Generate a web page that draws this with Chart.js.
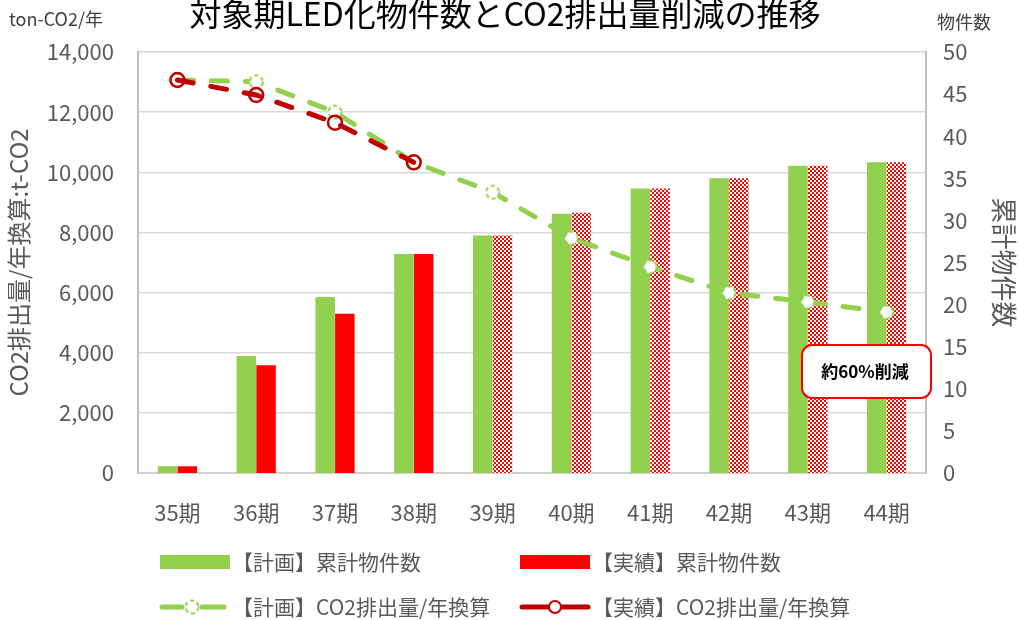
<!DOCTYPE html>
<html>
<head>
<meta charset="utf-8">
<script src="https://cdn.jsdelivr.net/npm/chart.js@4"></script>
<style>
  body { margin: 0; background: #fff; }
  #wrap { width: 1019px; height: 620px; }
</style>
</head>
<body>
<div id="wrap"><canvas id="co2Chart" width="1019" height="620"></canvas></div>
<script>
// 期ごとの件数と排出量
const periods = ['35期', '36期', '37期', '38期', '39期', '40期', '41期', '42期', '43期', '44期'];
const planCount = [0.8, 13.9, 20.9, 26.0, 28.2, 30.8, 33.8, 35.0, 36.5, 36.9];
const actualCount = [0.8, 12.8, 18.9, 26.0, 28.2, 30.9, 33.8, 35.0, 36.5, 36.9];
const planCO2 = [13070, 13010, 12000, 10330, 9340, 7810, 6860, 5990, 5690, 5350];
const actualCO2 = [13070, 12570, 11650, 10330, null, null, null, null, null, null];
// 39期以降の実績は見込み（網掛け）
const firstForecast = 4;

const GREEN = '#92D050';
const RED = '#FF0000';
const DARK_RED = '#C00000';
const GRAY = '#595959';
const JP = '"Noto Sans CJK JP", "Noto Sans", sans-serif';

document.addEventListener('DOMContentLoaded', function() {
    const canvas = document.getElementById('co2Chart');
    const ctx = canvas.getContext('2d');

    // 市松模様
    const tile = document.createElement('canvas');
    tile.width = 4; tile.height = 4;
    const tc = tile.getContext('2d');
    tc.fillStyle = '#fff'; tc.fillRect(0, 0, 4, 4);
    tc.fillStyle = RED;
    tc.fillRect(0, 0, 2, 2); tc.fillRect(2, 2, 2, 2);
    const checker = ctx.createPattern(tile, 'repeat');

    // 計画側のマーカー（白抜き・破線の円）
    const ring = document.createElement('canvas');
    ring.width = 18; ring.height = 18;
    const rc = ring.getContext('2d');
    rc.beginPath();
    rc.arc(9, 9, 6.5, 0, Math.PI * 2);
    rc.fillStyle = '#fff'; rc.fill();
    rc.setLineDash([4, 3]);
    rc.lineWidth = 2; rc.strokeStyle = GREEN; rc.stroke();

    const actualColors = actualCount.map((v, i) => i >= firstForecast ? checker : RED);

    // タイトル・凡例・注記
    const extras = {
        id: 'extras',
        afterDraw(chart) {
            const c = chart.ctx;
            const ds = chart.data.datasets;
            c.save();
            c.textBaseline = 'middle';

            c.fillStyle = '#000';
            c.font = '32px ' + JP;
            c.textAlign = 'center';
            c.fillText('対象期LED化物件数とCO2排出量削減の推移', 505, 14);

            c.fillStyle = '#404040';
            c.font = '18px ' + JP;
            c.textAlign = 'left';
            c.fillText('ton-CO2/年', 9, 19);
            c.fillText('物件数', 937, 22);

            // 注記ボックス
            c.beginPath();
            c.roundRect(802, 345, 129, 53, 10);
            c.fillStyle = '#fff'; c.fill();
            c.lineWidth = 2; c.strokeStyle = RED; c.stroke();
            c.fillStyle = '#000';
            c.font = 'bold 17px ' + JP;
            c.textAlign = 'center';
            c.fillText('約60%削減', 865, 372);

            // 凡例
            c.textAlign = 'left';
            c.font = '21px ' + JP;
            const cols = [160, 520];
            const rows = [562, 607];
            const items = [ds[2], ds[3], ds[1], ds[0]];
            items.forEach((d, i) => {
                const x = cols[i % 2];
                const y = rows[Math.floor(i / 2)];
                if (d.type === 'bar') {
                    c.fillStyle = i === 0 ? GREEN : RED;
                    c.fillRect(x, y - 7, 70, 14);
                } else if (i === 2) {
                    c.strokeStyle = GREEN; c.lineWidth = 5; c.lineCap = 'round';
                    c.beginPath(); c.moveTo(x + 2, y); c.lineTo(x + 22, y); c.stroke();
                    c.beginPath(); c.moveTo(x + 42, y); c.lineTo(x + 64, y); c.stroke();
                    c.drawImage(ring, x + 23, y - 9);
                } else {
                    c.strokeStyle = DARK_RED; c.lineWidth = 5; c.lineCap = 'round';
                    c.beginPath(); c.moveTo(x + 2, y); c.lineTo(x + 68, y); c.stroke();
                    c.beginPath(); c.arc(x + 35, y, 6, 0, Math.PI * 2);
                    c.fillStyle = '#fff'; c.fill();
                    c.lineWidth = 2; c.stroke();
                }
                c.fillStyle = GRAY;
                c.fillText(d.label, x + 72, y);
            });
            c.restore();
        }
    };

    new Chart(ctx, {
        data: {
            labels: periods,
            datasets: [{
                type: 'line',
                label: '【実績】CO2排出量/年換算',
                data: actualCO2,
                yAxisID: 'y',
                borderColor: DARK_RED,
                borderWidth: 5,
                borderDash: [16, 18],
                borderCapStyle: 'round',
                pointStyle: 'circle',
                pointRadius: 7,
                pointBorderWidth: 2.5,
                pointBorderColor: DARK_RED,
                pointBackgroundColor: 'rgba(255,255,255,0)',
                tension: 0,
                spanGaps: false,
                order: 0
            }, {
                type: 'line',
                label: '【計画】CO2排出量/年換算',
                data: planCO2,
                yAxisID: 'y',
                borderColor: GREEN,
                borderWidth: 5,
                borderDash: [16, 18],
                borderCapStyle: 'round',
                pointStyle: ring,
                pointRadius: 8,
                tension: 0,
                order: 1
            }, {
                type: 'bar',
                label: '【計画】累計物件数',
                data: planCount,
                yAxisID: 'y1',
                backgroundColor: GREEN,
                categoryPercentage: 0.5,
                barPercentage: 0.99,
                order: 2
            }, {
                type: 'bar',
                label: '【実績】累計物件数',
                data: actualCount,
                yAxisID: 'y1',
                backgroundColor: actualColors,
                categoryPercentage: 0.5,
                barPercentage: 0.99,
                order: 2
            }]
        },
        options: {
            responsive: false,
            animation: false,
            layout: { padding: { left: 0, right: 0, top: 52, bottom: 87 } },
            plugins: {
                legend: { display: false },
                tooltip: { enabled: false }
            },
            scales: {
                x: {
                    grid: { display: false },
                    border: { color: '#D0D0D0', width: 2 },
                    ticks: { color: GRAY, font: { family: JP, size: 22 }, padding: 18 },
                    afterFit(scale) { scale.height = 60; }
                },
                y: {
                    position: 'left',
                    min: 0, max: 14000,
                    ticks: {
                        stepSize: 2000,
                        color: GRAY,
                        font: { family: JP, size: 22 },
                        padding: 24,
                        callback: v => v.toLocaleString('en-US')
                    },
                    grid: { color: '#D9D9D9', lineWidth: 1.5, drawTicks: false },
                    border: { color: '#BFBFBF', width: 2 },
                    title: {
                        display: true,
                        text: 'CO2排出量/年換算:t-CO2',
                        color: GRAY,
                        font: { family: JP, size: 24 },
                        padding: { top: 4, bottom: 0 }
                    },
                    afterFit(scale) { scale.width = 138; }
                },
                y1: {
                    position: 'right',
                    min: 0, max: 50,
                    ticks: {
                        stepSize: 5,
                        color: GRAY,
                        font: { family: JP, size: 22 },
                        padding: 17
                    },
                    grid: { display: false, drawTicks: false },
                    border: { color: '#BFBFBF', width: 2 },
                    title: {
                        display: true,
                        text: '累計物件数',
                        color: GRAY,
                        font: { family: JP, size: 26 },
                        padding: { top: 0, bottom: 0 }
                    },
                    afterFit(scale) { scale.width = 93; }
                }
            }
        },
        plugins: [extras]
    });
});
</script>
</body>
</html>
